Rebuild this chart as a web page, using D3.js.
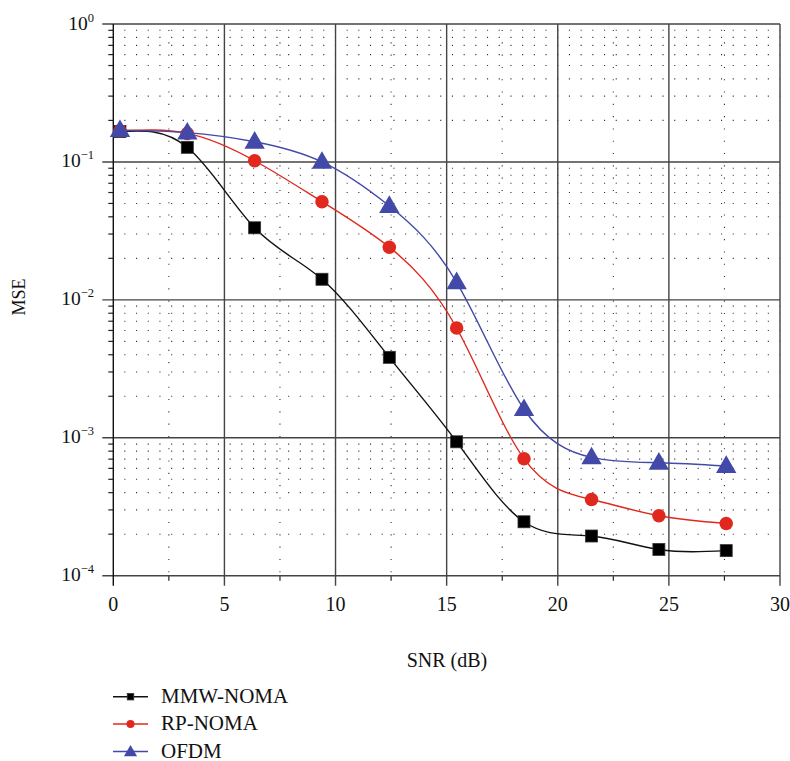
<!DOCTYPE html>
<html>
<head>
<meta charset="utf-8">
<script src="https://cdn.jsdelivr.net/npm/d3@7"></script>
<style>
  body { margin: 0; background: #fff; }
  svg { display: block; font-family: "Liberation Serif", "Times New Roman", serif; }
</style>
</head>
<body>
<svg id="chart" width="790" height="761"></svg>
<script>
// SNR sample points (dB)
const snr = [0.3, 3.33, 6.36, 9.39, 12.42, 15.45, 18.48, 21.52, 24.55, 27.58];
// MSE per scheme
const mmwNoma = [0.166, 0.1276, 0.0333, 0.0141, 0.00383, 0.000935, 0.000246, 0.000194, 0.000155, 0.000152];
const rpNoma  = [0.168, 0.161, 0.102, 0.0515, 0.0241, 0.00625, 0.000705, 0.000357, 0.000272, 0.000239];
const ofdm    = [0.17, 0.163, 0.140, 0.100, 0.0479, 0.0134, 0.00161, 0.000721, 0.000659, 0.000624];
const seriesNames = ["MMW-NOMA", "RP-NOMA", "OFDM"];
const xTicks = [0, 5, 10, 15, 20, 25, 30];
const yDecades = [0, -1, -2, -3, -4];

const svg = d3.select("#chart");
const plotL = 113.3, plotR = 780, plotT = 24, plotB = 575.7;

const x = d3.scaleLinear().domain([0, 30]).range([plotL, plotR]);
const y = d3.scaleLog().domain([1e-4, 1]).range([plotB, plotT]);

const g = svg.append("g");

// minor dotted horizontal grid (2..9 x decade)
const minorY = [];
for (let e = -4; e < 0; e++) for (let m = 2; m <= 9; m++) minorY.push(m * Math.pow(10, e));
g.selectAll(".hminor").data(minorY).join("line")
  .attr("x1", plotL).attr("x2", plotR)
  .attr("y1", d => y(d)).attr("y2", d => y(d))
  .attr("stroke", "#333").attr("stroke-width", 1.1)
  .attr("stroke-dasharray", "1.1,10.6").attr("stroke-dashoffset", -11);

// minor dotted vertical grid at odd multiples of 2.5
const minorX = [2.5, 7.5, 12.5, 17.5, 22.5, 27.5];
g.selectAll(".vminor").data(minorX).join("line")
  .attr("x1", d => x(d)).attr("x2", d => x(d))
  .attr("y1", plotT).attr("y2", plotB)
  .attr("stroke", "#333").attr("stroke-width", 1.1)
  .attr("stroke-dasharray", "1.1,11.2").attr("stroke-dashoffset", -6);

// left minor ticks (outward)
g.selectAll(".ytickminor").data(minorY).join("line")
  .attr("x1", plotL - 5).attr("x2", plotL)
  .attr("y1", d => y(d)).attr("y2", d => y(d))
  .attr("stroke", "#222").attr("stroke-width", 1.2);

// bottom minor ticks
g.selectAll(".xtickminor").data(minorX).join("line")
  .attr("x1", d => x(d)).attr("x2", d => x(d))
  .attr("y1", plotB).attr("y2", plotB + 5)
  .attr("stroke", "#222").attr("stroke-width", 1.2);

// major horizontal grid lines at decades (extend left as ticks)
g.selectAll(".hmajor").data(yDecades).join("line")
  .attr("x1", plotL - 11).attr("x2", plotR)
  .attr("y1", d => y(Math.pow(10, d))).attr("y2", d => y(Math.pow(10, d)))
  .attr("stroke", "#444").attr("stroke-width", 1.4);

// major vertical grid lines (extend down as ticks)
g.selectAll(".vmajor").data(xTicks).join("line")
  .attr("x1", d => x(d)).attr("x2", d => x(d))
  .attr("y1", plotT).attr("y2", plotB + 10)
  .attr("stroke", d => (d === 0 ? "#111" : "#444")).attr("stroke-width", 1.4);

// x tick labels
g.selectAll(".xlab").data(xTicks).join("text")
  .attr("x", d => x(d)).attr("y", 611)
  .attr("text-anchor", "middle")
  .attr("font-size", 20).attr("fill", "#111")
  .text(d => d);

// y tick labels: 10^n
const ylab = g.selectAll(".ylab").data(yDecades).join("text")
  .attr("x", 94).attr("y", d => y(Math.pow(10, d)) + 5.5)
  .attr("text-anchor", "end")
  .attr("font-size", 19.5).attr("fill", "#111");
ylab.append("tspan").text("10");
ylab.append("tspan").attr("dy", -8).attr("font-size", 12.5)
  .text(d => (d === 0 ? "0" : "\u2212" + Math.abs(d)));

// axis titles
g.append("text").attr("x", 447).attr("y", 667)
  .attr("text-anchor", "middle").attr("font-size", 20).attr("fill", "#111")
  .text("SNR (dB)");
g.append("text").attr("transform", `translate(25,297) rotate(-90)`)
  .attr("text-anchor", "middle").attr("font-size", 18).attr("fill", "#111")
  .text("MSE");

// series
const colors = ["#111111", "#e0281e", "#4249a8"];
const allData = [mmwNoma, rpNoma, ofdm];

// spline through the points in screen space (y already log-scaled)
const line = d3.line()
  .x(d => x(d[0]))
  .y(d => y(d[1]))
  .curve(d3.curveNatural);

allData.forEach((vals, i) => {
  const pts = snr.map((s, j) => [s, vals[j]]);
  g.append("path").datum(pts)
    .attr("d", line)
    .attr("fill", "none")
    .attr("stroke", colors[i])
    .attr("stroke-width", 1.4);
});

const tri = d3.symbol().type(d3.symbolTriangle);

function drawMarker(sel, kind, color, size) {
  if (kind === 0) {
    sel.append("rect")
      .attr("x", -size / 2).attr("y", -size / 2)
      .attr("width", size).attr("height", size)
      .attr("fill", "#000").attr("stroke", "#333").attr("stroke-width", 0.8);
  } else if (kind === 1) {
    sel.append("circle").attr("r", size / 2).attr("fill", color);
  } else {
    sel.append("path").attr("d", tri.size(size * size * 0.62)()).attr("fill", color)
      .attr("transform", "translate(0,1)");
  }
}

// markers: squares, then circles, then triangles on top
[0, 1, 2].forEach(i => {
  const vals = allData[i];
  snr.forEach((s, j) => {
    const m = g.append("g").attr("transform", `translate(${x(s)},${y(vals[j])})`);
    drawMarker(m, i, colors[i], i === 0 ? 12 : i === 1 ? 13.5 : 17);
  });
});

// legend
const legY = [696.7, 724, 751.5];
seriesNames.forEach((name, i) => {
  const lg = g.append("g");
  lg.append("line").attr("x1", 113).attr("x2", 148)
    .attr("y1", legY[i]).attr("y2", legY[i])
    .attr("stroke", colors[i]).attr("stroke-width", 1.4);
  const m = lg.append("g").attr("transform", `translate(130.5,${legY[i]})`);
  drawMarker(m, i, colors[i], i === 0 ? 6.5 : i === 1 ? 8 : 11);
  lg.append("text").attr("x", 161).attr("y", legY[i] + 6)
    .attr("font-size", 21).attr("fill", "#111").text(name);
});
</script>
</body>
</html>
